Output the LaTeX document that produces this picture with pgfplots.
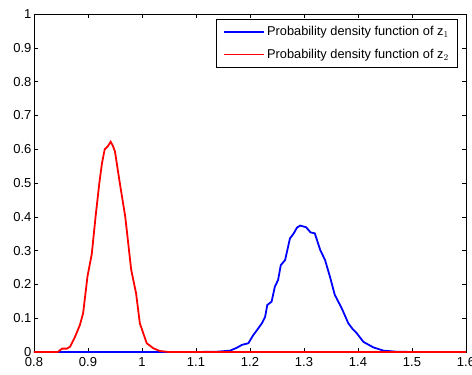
\documentclass[border=0pt]{standalone}
\usepackage{pgfplots}
\pgfplotsset{compat=1.18}
\usepackage{fontspec}
\setmainfont{Liberation Sans}
\begin{document}
\begin{tikzpicture}
\begin{axis}[
  scale only axis,
  width=432pt, height=338pt,
  xmin=0.8, xmax=1.6, ymin=0, ymax=1,
  xtick={0.8,0.9,...,1.61},
  ytick={0,0.1,...,1.01},
  tick align=inside,
  major tick length=4pt,
  tick style={black, line width=0.5pt},
  axis line style={line width=0.8pt},
  /pgf/number format/assume math mode=true,
  /pgf/number format/fixed,
  /pgf/number format/precision=1,
  tick label style={font=\fontsize{13}{15}\selectfont},
  xticklabel style={yshift=-2pt},
  yticklabel style={xshift=1pt},
  legend style={at={(1,1)}, anchor=north east, xshift=-8pt, yshift=-5pt,
    font=\fontsize{12.8}{14}\selectfont, draw=black, line width=0.6pt,
    inner xsep=7pt, inner ysep=5pt, row sep=8pt, cells={anchor=west}},
  legend image code/.code={\draw[#1, line width=1.8pt] (0pt,0pt) -- (40pt,0pt);},
]
\coordinate (bl) at (rel axis cs:0,0);
\coordinate (tr) at (rel axis cs:1,1);
\addplot[blue, line width=1.8pt] coordinates {
(0.8,0) (1.10,0) (1.14,0.001) (1.163,0.004) (1.175,0.012) (1.185,0.021) (1.197,0.026)
(1.206,0.05) (1.214,0.067) (1.222,0.085) (1.228,0.104) (1.232,0.139) (1.240,0.149)
(1.246,0.193) (1.252,0.213) (1.257,0.257) (1.265,0.272) (1.274,0.336) (1.281,0.351)
(1.287,0.368) (1.293,0.374) (1.304,0.369) (1.312,0.354) (1.320,0.351) (1.330,0.302)
(1.339,0.272) (1.348,0.223) (1.357,0.169) (1.370,0.129) (1.382,0.085) (1.390,0.068)
(1.398,0.055) (1.410,0.03) (1.428,0.014) (1.447,0.004) (1.47,0.001) (1.5,0) (1.6,0)
};
\addlegendentry{Probability density function of z$_1$}
\addplot[red, line width=1.8pt] coordinates {
(0.8,0) (0.844,0) (0.852,0.01) (0.861,0.01) (0.867,0.016) (0.876,0.045) (0.885,0.08)
(0.891,0.115) (0.899,0.223) (0.907,0.29) (0.914,0.40) (0.921,0.50) (0.926,0.56)
(0.931,0.60) (0.936,0.607) (0.942,0.622) (0.946,0.61) (0.95,0.593) (0.958,0.509)
(0.969,0.40) (0.980,0.243) (0.989,0.174) (0.996,0.085) (1.0087,0.026) (1.021,0.011)
(1.033,0.003) (1.05,0) (1.6,0)
};
\addlegendentry{Probability density function of z$_2$}
\end{axis}
\pgfresetboundingbox
\path[use as bounding box] ([xshift=-34pt,yshift=-22pt]bl) rectangle ([xshift=6pt,yshift=14pt]tr);
\end{tikzpicture}
\end{document}
